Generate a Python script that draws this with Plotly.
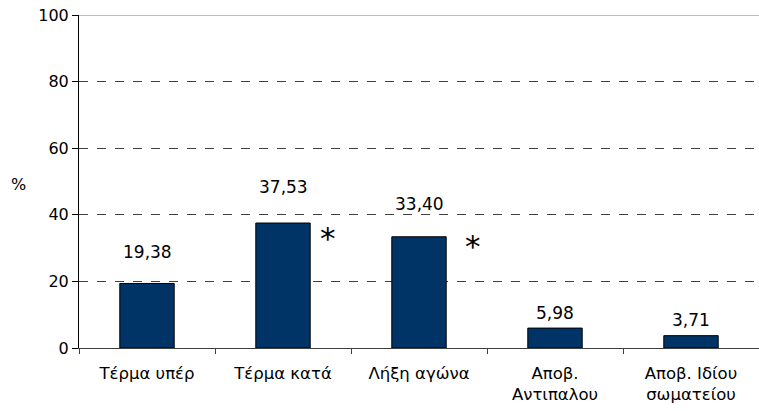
import plotly.graph_objects as go

categories = ["Τέρμα υπέρ", "Τέρμα κατά", "Λήξη αγώνα", "Αποβ.<br>Αντιπαλου", "Αποβ. Ιδίου<br>σωματείου"]
values = [19.38, 37.53, 33.40, 5.98, 3.71]
labels = ["19,38", "37,53", "33,40", "5,98", "3,71"]
label_shift = [31, 36, 33, 15, 16]
star_idx = [1, 2]
star_dx = [0.33, 0.40]
star_y = [33.0, 30.5]
y_ticks = [0, 20, 40, 60, 80, 100]

FONT = "DejaVu Sans"
fig = go.Figure()
fig.add_trace(go.Bar(
    x=categories, y=values, width=0.4,
    marker=dict(color="#003366", line=dict(color="#000000", width=1)),
    hoverinfo="skip",
))
for i, (v, t, s) in enumerate(zip(values, labels, label_shift)):
    fig.add_annotation(x=i, y=v, text=t, showarrow=False, yshift=s,
                       font=dict(family=FONT, size=17, color="#000"))
for i, dx, y in zip(star_idx, star_dx, star_y):
    fig.add_annotation(x=i + dx, y=y, text="*", showarrow=False,
                       font=dict(family=FONT, size=31, color="#000"))
fig.add_annotation(xref="paper", yref="y", x=-0.0897, xanchor="center", y=49, text="%",
                   showarrow=False, font=dict(family=FONT, size=16, color="#000"))
fig.add_shape(type="line", xref="paper", yref="y", x0=0, x1=1, y0=100, y1=100,
              line=dict(color="#808080", width=1))

fig.update_layout(
    width=759, height=411,
    margin=dict(l=79, r=0, t=15, b=63),
    plot_bgcolor="white", paper_bgcolor="white",
    showlegend=False,
    font=dict(family=FONT, size=16, color="#000"),
    xaxis=dict(
        type="category", categoryorder="array", categoryarray=categories,
        tickson="boundaries", automargin=False, ticklabelstandoff=10,
        showgrid=False, zeroline=False,
        showline=True, linecolor="#404040", linewidth=1,
        ticks="outside", ticklen=5, tickcolor="#404040",
        tickfont=dict(family=FONT, size=16.5, color="#000"),
    ),
    yaxis=dict(
        range=[0, 100], tickvals=y_ticks, showgrid=True, automargin=False,
        gridcolor="#404040", griddash="dash", gridwidth=1,
        zeroline=False, showline=True, linecolor="#000", linewidth=1,
        ticks="outside", ticklen=6, tickcolor="#000",
        tickfont=dict(family=FONT, size=16, color="#000"),
    ),
)
fig.write_html("out.html", config={"displayModeBar": False},
               post_script="document.body.style.margin='0';document.body.style.overflow='hidden';")
